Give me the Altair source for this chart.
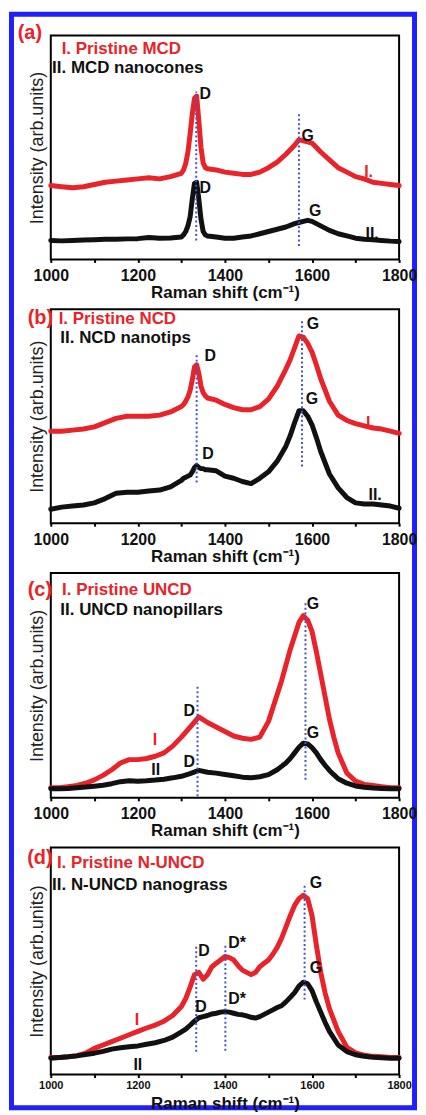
import altair as alt
import pandas as pd

FONT = "Liberation Sans"
RED = "#e8232a"
BLACK = "#111111"
BLUE = "#1f1fff"
DOT = "#4455cc"

X_TICKS = list(range(1000, 1801, 100))
X_TITLE = "Raman shift (cm\u207b\u00b9)"
Y_TITLE = "Intensity (arb.units)"

# ---------------- panel (a) MCD ----------------
A_X = [1000, 1025, 1050, 1075, 1100, 1125, 1150, 1175, 1200, 1225, 1250, 1275, 1300,
       1305, 1310, 1315, 1320, 1325, 1330, 1335, 1340, 1345, 1350, 1355, 1360,
       1380, 1400, 1420, 1440, 1460, 1480, 1500, 1520, 1540, 1560, 1570, 1580, 1590,
       1600, 1610, 1620, 1640, 1660, 1680, 1700, 1720, 1740, 1760, 1780, 1800]
A_RED = [33, 32.5, 32, 32.5, 33.5, 34.5, 35, 35.5, 36, 36.5, 36, 37, 38.5,
         40, 43, 48, 56, 65, 72, 73, 62, 50, 43, 41, 40.5,
         40, 39, 38.5, 38, 38, 39, 41, 43.5, 47, 51, 53.5, 53, 52.5,
         52, 50, 48, 44.5, 41, 39, 37, 36, 34.5, 34, 33.5, 33]
A_BLACK = [8.5, 8.3, 8.5, 8.7, 8.8, 9, 9, 9.2, 9.3, 9.8, 9.5, 9.6, 10,
           11, 12.5, 15, 19, 27, 34, 34.5, 27, 18, 12.5, 11, 10.5,
           10, 9.5, 9.5, 10, 10.5, 11.5, 12.5, 13.5, 14.5, 16, 16.5, 17, 17.5,
           17, 16, 15, 13, 11.5, 10.5, 9.5, 9, 8.8, 8.5, 8.2, 8]
A_LEG_TEXT = ["I. Pristine MCD", "II. MCD nanocones"]
A_LEG_X = [1025, 1003]
A_LEG_Y = [94, 85.5]
A_LEG_KIND = ["red", "black"]
A_LAB_TEXT = ["(a)", "D", "G", "D", "G", "I.", "II."]
A_LAB_X = [952, 1355, 1590, 1355, 1607, 1730, 1738]
A_LAB_Y = [101, 74, 55, 32, 21.7, 39, 11.5]
A_LAB_KIND = ["panel", "black", "black", "black", "black", "red", "black"]
A_VL_X = [1334, 1570]
A_VL_Y1 = [8.5, 6]
A_VL_Y2 = [75, 66]

# ---------------- panel (b) NCD ----------------
B_X = [1000, 1025, 1050, 1075, 1100, 1125, 1150, 1175, 1200, 1225, 1250, 1275, 1300,
       1305, 1310, 1315, 1320, 1325, 1330, 1335, 1340, 1345, 1350, 1355, 1360,
       1380, 1400, 1420, 1440, 1460, 1480, 1500, 1520, 1540,
       1550, 1560, 1570, 1580, 1590, 1600, 1610, 1620,
       1640, 1660, 1680, 1700, 1720, 1740, 1760, 1780, 1800]
B_RED = [43, 43, 43.5, 44, 45, 47, 49, 50, 50, 50, 50.5, 52, 54.5,
         55.5, 57, 59, 62, 67, 73, 74, 70, 64, 61, 59.5, 58.5,
         57.5, 55.5, 54, 53, 53, 54.5, 58, 64, 72,
         76.5, 82, 87.5, 87, 84, 80, 74, 67.5,
         57, 50.5, 48, 46.5, 45.5, 44.5, 44, 43, 42]
B_BLACK = [6.5, 7.5, 8, 8.5, 9.5, 11.5, 14, 14.5, 14.5, 15, 15.5, 17, 20,
           21, 21.5, 22, 22.5, 24, 26, 27, 26, 25.5, 25.5, 25, 25,
           24.5, 22, 21, 19.5, 18.5, 21, 24, 29, 36,
           41, 47, 52.5, 52.5, 50, 46, 40, 33.5,
           23, 16.5, 12, 9.5, 9, 9, 8.5, 8, 7]
B_LEG_TEXT = ["I. Pristine NCD", "II. NCD nanotips"]
B_LEG_X = [1018, 1022]
B_LEG_Y = [95.4, 86.5]
B_LEG_KIND = ["red", "black"]
B_LAB_TEXT = ["(b)", "D", "G", "D", "G", "I.", "II."]
B_LAB_X = [976, 1366, 1602, 1361, 1600, 1734, 1745]
B_LAB_Y = [96, 78, 93, 32.5, 58, 46.7, 13]
B_LAB_KIND = ["panel", "black", "black", "black", "black", "red", "black"]
B_VL_X = [1335, 1577]
B_VL_Y1 = [19, 26.5]
B_VL_Y2 = [79, 95]

# ---------------- panel (c) UNCD ----------------
C_X = [1000, 1020, 1040, 1060, 1080, 1100, 1120, 1140, 1160, 1180, 1200, 1220, 1240, 1260,
       1280, 1300, 1320, 1340, 1360, 1380, 1400, 1420, 1440, 1460, 1480, 1500, 1520,
       1530, 1540, 1550, 1560, 1570, 1580, 1590, 1600, 1610, 1620, 1630, 1640, 1650,
       1660, 1680, 1700, 1720, 1740, 1760, 1780, 1800]
C_RED = [4.5, 4.5, 5, 5.5, 6.5, 8, 10, 12.5, 15.5, 17, 17, 17.5, 18.5, 20,
         23, 27, 31.5, 36, 33.5, 31.5, 29.5, 27.5, 26.5, 26, 27, 34, 46,
         52, 59, 66, 72, 78, 81, 79, 74, 65, 55, 45, 35, 27,
         20, 11, 7.5, 6, 5.5, 5, 4.5, 4.5]
C_BLACK = [4, 4, 4.2, 4.5, 4.8, 5.2, 5.6, 6.3, 7.2, 7.6, 7.4, 7.6, 7.9, 8.3,
           8.9, 9.6, 10.8, 12.2, 11.4, 11, 10.4, 9.8, 9.2, 8.9, 9.4, 10.3, 12.5,
           14, 15.5, 17.5, 20, 22.5, 24.3, 24, 22.3, 20, 17, 14.5, 12.2, 10.3,
           8.5, 6.5, 5.3, 4.7, 4.4, 4.2, 4, 4]
C_LEG_TEXT = ["I. Pristine UNCD", "II. UNCD nanopillars"]
C_LEG_X = [1026, 1022]
C_LEG_Y = [92.5, 83.3]
C_LEG_KIND = ["red", "black"]
C_LAB_TEXT = ["(c)", "D", "G", "D", "G", "I", "II"]
C_LAB_X = [975, 1318, 1602, 1318, 1602, 1239, 1241]
C_LAB_Y = [92.5, 38.8, 86.4, 15.8, 29, 25.8, 12.5]
C_LAB_KIND = ["panel", "black", "black", "black", "black", "red", "black"]
C_VL_X = [1337, 1585]
C_VL_Y1 = [0.7, 8]
C_VL_Y2 = [49.5, 87]

# ---------------- panel (d) N-UNCD ----------------
D_X = [1000, 1020, 1040, 1060, 1080, 1100, 1120, 1140, 1160, 1180, 1200, 1220, 1240, 1260, 1280, 1300,
       1310, 1320, 1330, 1340, 1350, 1360, 1370, 1380, 1390, 1400, 1410, 1420, 1430, 1440, 1450,
       1460, 1470, 1480, 1490, 1500, 1510, 1520, 1530, 1540, 1550, 1560, 1570, 1580, 1590, 1600,
       1610, 1620, 1630, 1640,
       1660, 1680, 1700, 1720, 1740, 1760, 1780, 1800]
D_RED = [7.5, 7.5, 7.8, 8.3, 9.4, 11.5, 13, 14.5, 16, 17.5, 19, 20.5, 21.8, 23.5, 26, 30,
         33.5, 38.5, 44, 45, 42, 44, 47.5, 49, 50.5, 52, 51.5, 50.5, 48, 46, 45,
         44, 45, 47.5, 49, 50.5, 53, 56, 60, 65, 70, 74.5, 77.5, 79, 77.5, 70,
         57, 45, 36, 29,
         19, 12, 9.5, 8.5, 8, 7.8, 7.5, 7.5]
D_BLACK = [7.2, 7.5, 7.8, 8.2, 8.8, 9.4, 10.2, 11.2, 11.8, 12.2, 12.6, 13.3, 14, 15, 16.5, 18.8,
           20, 21.7, 23.5, 25, 25.5, 26, 26.7, 27, 27.5, 27.7, 27.5, 27, 26.5, 26.3, 25.8,
           25.2, 24.9, 25.5, 26.5, 27.5, 28.5, 29.5, 30.3, 32, 34, 36.1, 39, 40.7, 40, 37,
           32, 27.5, 23, 19,
           13, 10.1, 8.7, 8, 7.6, 7.4, 7.2, 7.2]
D_LEG_TEXT = ["I. Pristine N-UNCD", "II. N-UNCD nanograss"]
D_LEG_X = [1014, 1003]
D_LEG_Y = [93, 83.7]
D_LEG_KIND = ["red", "black"]
D_LAB_TEXT = ["(d)", "D", "D*", "G", "G", "D", "D*", "I", "II"]
D_LAB_X = [975, 1352, 1428, 1609, 1609, 1345, 1428, 1198, 1200]
D_LAB_Y = [95.6, 54.2, 57.8, 84.5, 47, 29.6, 33.2, 23.8, 4.3]
D_LAB_KIND = ["panel", "black", "black", "black", "black", "black", "black", "red", "black"]
D_VL_X = [1334, 1401, 1583]
D_VL_Y1 = [10, 10.5, 33]
D_VL_Y2 = [57, 57.5, 84]

KIND_COLOR = {"red": RED, "black": BLACK, "panel": RED}
KIND_SIZE = {"red": 16, "black": 16, "panel": 20}

PLOT_W = 350


def make_panel(xs, red, black, leg, lab, vl, height, label_size, label_pad, title_pad, border=False):
    xsc = alt.Scale(domain=[1000, 1800], nice=False, zero=False)
    ysc = alt.Scale(domain=[0, 100], nice=False, zero=False)
    xaxis = alt.Axis(values=X_TICKS, labelExpr="datum.value % 200 === 0 ? datum.label : ''",
                     format="d", labelFlush=False, labelOverlap=False, tickSize=3, tickWidth=2,
                     tickColor="black", domain=False, grid=False, labelFont=FONT,
                     labelFontSize=label_size, labelFontWeight="bold", labelColor=BLACK,
                     labelPadding=label_pad, title=X_TITLE, titleFont=FONT, titleFontSize=17,
                     titleFontWeight="bold", titleColor=BLACK, titlePadding=title_pad, zindex=1)
    yaxis = alt.Axis(title=Y_TITLE, labels=False, ticks=False, domain=False, grid=False,
                     titleFont=FONT, titleFontSize=18, titleFontWeight="normal",
                     titleColor="#222222", titlePadding=4)
    X = alt.X("x:Q", scale=xsc, axis=xaxis)
    Y = alt.Y("y:Q", scale=ysc, axis=yaxis)

    dfr = pd.DataFrame({"x": xs, "y": red})
    dfb = pd.DataFrame({"x": xs, "y": black})
    line_r = alt.Chart(dfr).mark_line(color=RED, strokeWidth=5, strokeJoin="round", strokeCap="round").encode(x=X, y=Y)
    line_b = alt.Chart(dfb).mark_line(color=BLACK, strokeWidth=5, strokeJoin="round", strokeCap="round").encode(x=X, y=Y)

    dvl = pd.DataFrame({"x": vl[0], "y": vl[1], "y2": vl[2]})
    rules = alt.Chart(dvl).mark_rule(color=DOT, strokeWidth=2, strokeDash=[2, 2.5]).encode(
        x=X, y=Y, y2="y2:Q")

    dleg = pd.DataFrame({"x": leg[0], "y": leg[1], "t": leg[2],
                         "c": [KIND_COLOR[k] for k in leg[3]]})
    legt = alt.Chart(dleg).mark_text(align="left", baseline="middle", font=FONT, fontSize=17,
                                     fontWeight="bold").encode(
        x=X, y=Y, text="t:N", color=alt.Color("c:N", scale=None))

    dlab = pd.DataFrame({"x": lab[0], "y": lab[1], "t": lab[2],
                         "c": [KIND_COLOR[k] for k in lab[3]],
                         "s": [KIND_SIZE[k] for k in lab[3]]})
    labt = alt.Chart(dlab).mark_text(align="center", baseline="middle", font=FONT,
                                     fontWeight="bold").encode(
        x=X, y=Y, text="t:N", color=alt.Color("c:N", scale=None), size=alt.Size("s:Q", scale=None))

    layers = []
    if border:
        frame = alt.Chart(pd.DataFrame({"k": [0]})).mark_rect(
            filled=False, stroke=BLUE, strokeWidth=5).encode(
            x=alt.value(-39.5), x2=alt.value(365.5), y=alt.value(-21.5), y2=alt.value(1077.5))
        layers.append(frame)
    layers += [line_r, line_b, rules, legt, labt]
    return alt.layer(*layers).properties(width=PLOT_W, height=height)


pa = make_panel(A_X, A_RED, A_BLACK, (A_LEG_X, A_LEG_Y, A_LEG_TEXT, A_LEG_KIND),
                (A_LAB_X, A_LAB_Y, A_LAB_TEXT, A_LAB_KIND), (A_VL_X, A_VL_Y1, A_VL_Y2),
                225, 16, 5, 1, border=True)
pb = make_panel(B_X, B_RED, B_BLACK, (B_LEG_X, B_LEG_Y, B_LEG_TEXT, B_LEG_KIND),
                (B_LAB_X, B_LAB_Y, B_LAB_TEXT, B_LAB_KIND), (B_VL_X, B_VL_Y1, B_VL_Y2),
                215, 16, 5, 1)
pc = make_panel(C_X, C_RED, C_BLACK, (C_LEG_X, C_LEG_Y, C_LEG_TEXT, C_LEG_KIND),
                (C_LAB_X, C_LAB_Y, C_LAB_TEXT, C_LAB_KIND), (C_VL_X, C_VL_Y1, C_VL_Y2),
                226, 16, 5, 1)
pd_ = make_panel(D_X, D_RED, D_BLACK, (D_LEG_X, D_LEG_Y, D_LEG_TEXT, D_LEG_KIND),
                 (D_LAB_X, D_LAB_Y, D_LAB_TEXT, D_LAB_KIND), (D_VL_X, D_VL_Y1, D_VL_Y2),
                 228, 11, 2, 5)

chart = alt.vconcat(pa, pb, pc, pd_, spacing=50, bounds="flush").properties(
    padding=0, background="white"
).configure_view(stroke="black", strokeWidth=2)

chart.save("out.html", embed_options={"renderer": "svg", "actions": False})
